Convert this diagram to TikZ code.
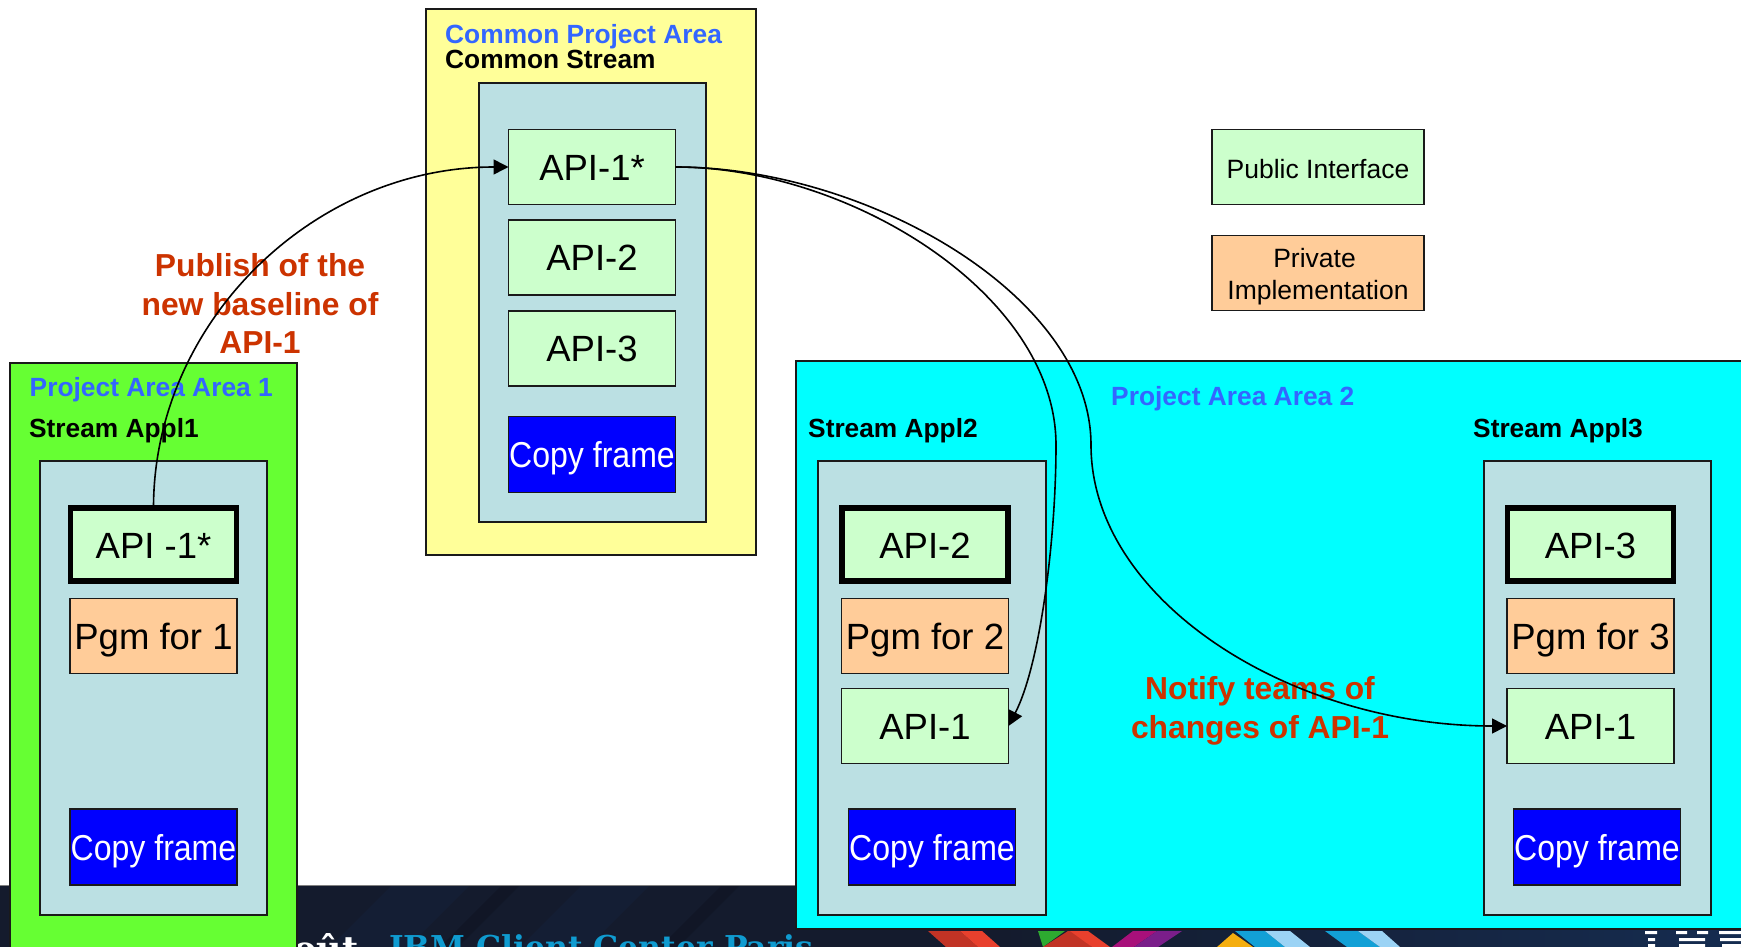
\documentclass[tikz,border=0pt]{standalone}
\usepackage{fontspec}
\setmainfont{Liberation Sans}
\newfontfamily\condfont[FakeStretch=0.89]{Liberation Sans}
\newfontfamily\slabfont{DejaVu Serif}
\usetikzlibrary{arrows.meta}
\definecolor{bandc}{HTML}{141B2D}
\definecolor{bandd}{HTML}{15233F}
\definecolor{bande}{HTML}{152C50}
\definecolor{innerc}{HTML}{BBE0E3}
\definecolor{apic}{HTML}{CCFFCC}
\definecolor{pgmc}{HTML}{FFCC99}
\definecolor{labelc}{HTML}{CC3300}
\definecolor{titlec}{HTML}{3366FF}
\definecolor{greenc}{HTML}{66FF33}
\definecolor{yellowc}{HTML}{FFFF99}
\definecolor{cyanc}{HTML}{00FFFF}
\definecolor{bluec}{HTML}{0000FF}
\definecolor{linec}{HTML}{1A1A1A}
\definecolor{dredc}{HTML}{C13325}
\definecolor{bredc}{HTML}{E8402D}
\definecolor{lgreenc}{HTML}{2DAA30}
\definecolor{magc}{HTML}{A8107A}
\definecolor{purc}{HTML}{7A1E8A}
\definecolor{orac}{HTML}{F5AE0F}
\definecolor{skyc}{HTML}{12A0D6}
\definecolor{lskyc}{HTML}{9BD3F5}
\definecolor{ibmc}{HTML}{0F9BD0}
\tikzset{
  base box/.style={draw=linec,line width=1.6pt,inner sep=0pt,outer sep=0pt,anchor=center},
  area/.style={base box,line width=2pt},
  stream/.style={base box,fill=innerc},
  bigtext/.style={font=\fontsize{36.5}{40}\selectfont,text height=26pt,text depth=0pt},
  apibox/.style={base box,fill=apic,bigtext,minimum width=167pt,minimum height=75pt},
  apithick/.style={apibox,draw=black,line width=5.5pt,minimum width=166pt,minimum height=73pt,text height=27.5pt},
  pgmbox/.style={base box,fill=pgmc,bigtext,minimum width=167pt,minimum height=75pt},
  copybox/.style={base box,fill=bluec,text=white,minimum width=167pt,minimum height=76pt,
     font=\condfont\fontsize{36}{40}\selectfont,text height=26pt,text depth=0pt},
  legend/.style={base box,minimum width=212pt,minimum height=75pt,font=\fontsize{26.5}{32.5}\selectfont,align=center},
  areatitle/.style={anchor=base west,inner sep=0pt,text=titlec,font=\bfseries\fontsize{26.35}{30}\selectfont},
  streamtitle/.style={anchor=base west,inner sep=0pt,text=black,font=\bfseries\fontsize{26.3}{30}\selectfont},
  note/.style={inner sep=0pt,text=labelc,align=center,font=\bfseries\fontsize{31.8}{38.7}\selectfont},
  conn/.style={draw=black,line width=1.6pt,-{Triangle[length=15pt,width=15pt]}},
}
\begin{document}
\begin{tikzpicture}[x=1pt,y=-1pt]
\clip (0,0) rectangle (1741,947);
\fill[white] (0,0) rectangle (1741,947);
% bottom band
\fill[bandc] (0,885) rectangle (1000,947);
\fill[left color=bandc,right color=bande] (1000,885) rectangle (1741,947);
\fill[bandd,opacity=.4] (330,947) -- (392,885) -- (470,885) -- (408,947) -- cycle;
\fill[bandd,opacity=.4] (520,947) -- (582,885) -- (650,885) -- (588,947) -- cycle;
\fill[black,opacity=.15] (440,947) -- (502,885) -- (520,885) -- (458,947) -- cycle;
\fill[black,opacity=.15] (660,947) -- (722,885) -- (740,885) -- (678,947) -- cycle;
\draw[gray,line width=1pt] (0,885) -- (1741,885);
% logo stripes
\fill[dredc] (928,931) -- (960,931) -- (978,947) -- (946,947) -- cycle;
\fill[bredc] (960,931) -- (982,931) -- (1000,947) -- (978,947) -- cycle;
\fill[lgreenc] (1038,931) -- (1065,931) -- (1043,947) -- cycle;
\fill[dredc] (1043,947) -- (1068,931) -- (1072,931) -- (1092,947) -- cycle;
\fill[bredc] (1070,931) -- (1088,931) -- (1110,947) -- (1092,947) -- cycle;
\fill[magc] (1112,947) -- (1133,931) -- (1157,931) -- (1134,947) -- cycle;
\fill[purc] (1134,947) -- (1157,931) -- (1182,931) -- (1158,947) -- cycle;
\fill[orac] (1233,933) -- (1217,947) -- (1253,947) -- cycle;
\fill[skyc] (1235,931) -- (1265,931) -- (1285,947) -- (1255,947) -- cycle;
\fill[lskyc] (1265,931) -- (1290,931) -- (1310,947) -- (1285,947) -- cycle;
\fill[skyc] (1325,931) -- (1358,931) -- (1380,947) -- (1347,947) -- cycle;
\fill[lskyc] (1358,931) -- (1382,931) -- (1400,947) -- (1380,947) -- cycle;
% IBM logo
\fill[white] (1645,931) rectangle (1657,934) (1676,931) rectangle (1687,934) (1697,931) rectangle (1708,934) (1719,931) rectangle (1741,934);
\fill[white] (1648,938) rectangle (1655,941) (1679,938) rectangle (1705,941) (1720,938) rectangle (1741,941);
\fill[white] (1648,944) rectangle (1655,947) (1679,944) rectangle (1705,947) (1722,944) rectangle (1741,947);
% band text, cut by the page edge
\node[anchor=base west,inner sep=0pt,text=white,font=\slabfont\bfseries\fontsize{35}{40}\selectfont] (coutxt) at (272,961) {coût};
\node[anchor=base west,inner sep=0pt,text=ibmc,font=\slabfont\bfseries\fontsize{31.5}{40}\selectfont] (ibmtxt) at (389,958) {IBM Client Center Paris};
% areas
\node[area,fill=yellowc,minimum width=330pt,minimum height=546pt] (common) at (591,282) {};
\node[area,fill=greenc,minimum width=287pt,minimum height=602pt] (pa1) at (153.5,664) {};
\node[area,fill=cyanc,minimum width=964pt,minimum height=568pt] (pa2) at (1278,645) {};
\node[areatitle] (tcommon) at (445,44) {Common Project Area};
\node[streamtitle] (scommon) at (445,69) {Common Stream};
\node[areatitle] (t1) at (29.5,396) {Project Area Area 1};
\node[streamtitle] (s1) at (29,437) {Stream Appl1};
\node[areatitle] (t2) at (1111,405) {Project Area Area 2};
\node[streamtitle] (s2) at (808,437) {Stream Appl2};
\node[streamtitle] (s3) at (1473,437) {Stream Appl3};
% streams
\node[stream,minimum width=227pt,minimum height=439pt] (sc) at (592.5,302.5) {};
\node[stream,minimum width=227pt,minimum height=454pt] (st1) at (153.5,688) {};
\node[stream,minimum width=228pt,minimum height=454pt] (st2) at (932,688) {};
\node[stream,minimum width=227pt,minimum height=454pt] (st3) at (1597.5,688) {};
% common stream
\node[apibox] (c1) at (592,167) {API-1*};
\node[apibox] (c2) at (592,257.5) {API-2};
\node[apibox] (c3) at (592,348.5) {API-3};
\node[copybox] (cc) at (592,454.5) {Copy frame};
% stream 1
\node[apithick] (a1) at (153.5,544.5) {API -1*};
\node[pgmbox] (p1) at (153.5,636) {Pgm for 1};
\node[copybox] (f1) at (153.5,847) {Copy frame};
% stream 2
\node[apithick] (a2) at (925,544.5) {API-2};
\node[pgmbox] (p2) at (925,636) {Pgm for 2};
\node[apibox] (b2) at (925,726) {API-1};
\node[copybox] (f2) at (932,847) {Copy frame};
% stream 3
\node[apithick] (a3) at (1590.5,544.5) {API-3};
\node[pgmbox] (p3) at (1590.5,636) {Pgm for 3};
\node[apibox] (b3) at (1590.5,726) {API-1};
\node[copybox] (f3) at (1597,847) {Copy frame};
% legend
\node[legend,fill=apic,text height=22.6pt,text depth=0pt] (lg1) at (1318,167) {Public Interface};
\node[legend,fill=pgmc] (lg2) at (1318,273) {\rule{0pt}{26pt}Private\hspace*{7pt}\\ Implementation};
% notes
\node[note] (n1) at (260,303.5) {Publish of the\\ new baseline of\\ API-1};
\node[note] (n2) at (1260,711) {Notify teams of\\ changes of API-1};
% connectors
\draw[conn] (a1.north) .. controls +(0,-186) and +(-195,0) .. (c1.west);
\draw[conn] (c1.east) .. controls +(175,0) and (1056,295) .. (1056,445) .. controls (1056,540) and (1040,665) .. (b2.east);
\draw[conn] (c1.east) .. controls +(190,0) and (1091,295) .. (1091,445) .. controls (1091,600) and (1290,726) .. (b3.west);
\end{tikzpicture}
\end{document}
